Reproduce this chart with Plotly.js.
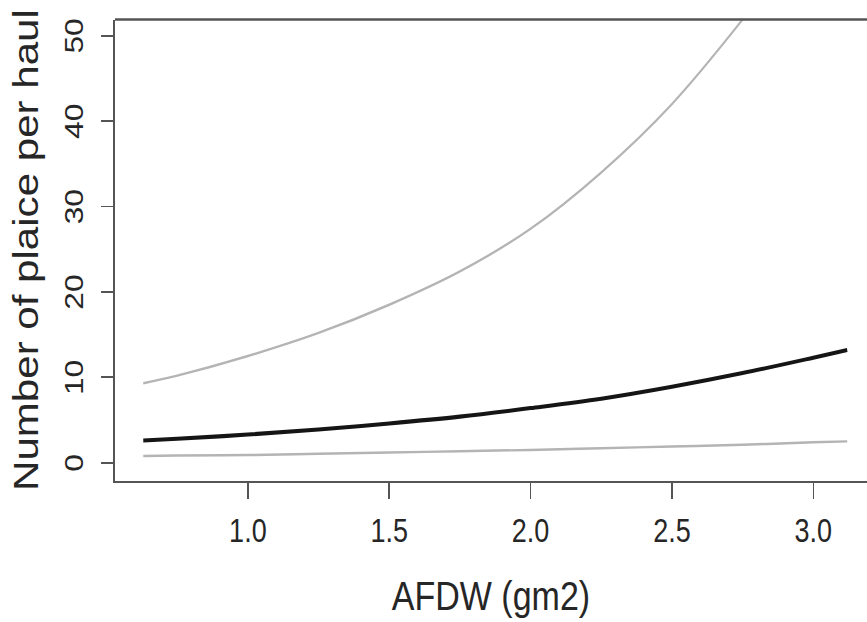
<!DOCTYPE html>
<html>
<head>
<meta charset="utf-8">
<script src="https://cdn.plot.ly/plotly-3.0.1.min.js"></script>
<style>
  html, body { margin: 0; padding: 0; background: #ffffff; overflow: hidden; }
  #wrap { width: 867px; height: 622px; overflow: hidden; }
  #chart { width: 867px; transform-origin: 0 0; }
</style>
</head>
<body>
<div id="wrap"><div id="chart"></div></div>
<script>
// Values
const afdw      = [0.63, 0.75, 1.0, 1.25, 1.5, 1.75, 2.0, 2.25, 2.5, 2.75, 3.0, 3.12];
const fitted    = [2.6, 2.8, 3.3, 3.9, 4.6, 5.4, 6.4, 7.5, 8.9, 10.5, 12.3, 13.2];
const lowerCI   = [0.8, 0.85, 0.9, 1.05, 1.2, 1.35, 1.5, 1.7, 1.9, 2.1, 2.4, 2.5];
const afdwUpper = [0.63, 0.75, 1.0, 1.25, 1.5, 1.75, 2.0, 2.25, 2.5, 2.75, 2.8];
const upperCI   = [9.3, 10.2, 12.5, 15.2, 18.5, 22.4, 27.4, 34.0, 42.0, 51.9, 54.1];

const xTickVals = [1.0, 1.5, 2.0, 2.5, 3.0];
const xTickText = ["1.0", "1.5", "2.0", "2.5", "3.0"];
const yTickVals = [0, 10, 20, 30, 40, 50];
const yTickText = ["0", "10", "20", "30", "40", "50"];

const xTitle = "AFDW (gm2)";
const yTitle = "Number of plaice per haul";

// the reference is stretched vertically; reproduce with a CSS scale
const S = 1.22;
const W = 867, H = 622 / S;
const el = document.getElementById('chart');
el.style.height = H + 'px';
el.style.transform = 'scaleY(' + S + ')';

const txt = '#262626';
const axc = '#555555';
const fam = '"Liberation Sans", Arial, sans-serif';

const traces = [
  {x: afdwUpper, y: upperCI, mode: 'lines', line: {color: '#b4b4b4', width: 2, shape: 'spline'}, hoverinfo: 'skip'},
  {x: afdw, y: lowerCI, mode: 'lines', line: {color: '#b4b4b4', width: 2, shape: 'spline'}, hoverinfo: 'skip'},
  {x: afdw, y: fitted, mode: 'lines', line: {color: '#151515', width: 3.3, shape: 'spline'}, hoverinfo: 'skip'}
];

const plotTop = 20 / S, plotBottom = 481 / S;
const layout = {
  width: W, height: H,
  margin: {l: 115, r: 0, t: plotTop, b: H - plotBottom, pad: 0},
  paper_bgcolor: '#ffffff', plot_bgcolor: '#ffffff',
  showlegend: false,
  font: {family: fam, color: txt},
  xaxis: {
    range: [0.53, 3.19], showgrid: false, zeroline: false,
    showline: true, linecolor: axc, linewidth: 2,
    ticks: 'outside', ticklen: 13, tickwidth: 1.5, tickcolor: axc,
    tickvals: xTickVals, ticktext: xTickText,
    tickfont: {size: 27, color: txt, family: fam},
    ticklabelstandoff: 3,
    title: {text: xTitle, font: {size: 34, color: txt, family: fam}, standoff: 27},
    automargin: false
  },
  yaxis: {
    range: [-2.1, 51.9], showgrid: false, zeroline: false,
    showline: true, linecolor: axc, linewidth: 2,
    ticks: 'outside', ticklen: 12, tickwidth: 1.5, tickcolor: axc,
    tickvals: yTickVals, ticktext: yTickText, tickangle: -90,
    tickfont: {size: 26, color: txt, family: fam},
    ticklabelstandoff: 8,
    ticklabelshift: 4,
    title: {text: yTitle, font: {size: 34.5, color: txt, family: fam}, standoff: 10},
    automargin: false
  },
  shapes: [
    {type: 'line', xref: 'paper', yref: 'paper', x0: 0, x1: 1, y0: 1, y1: 1, line: {color: axc, width: 2}}
  ]
};

Plotly.newPlot(el, traces, layout, {staticPlot: true, displayModeBar: false});
</script>
</body>
</html>
